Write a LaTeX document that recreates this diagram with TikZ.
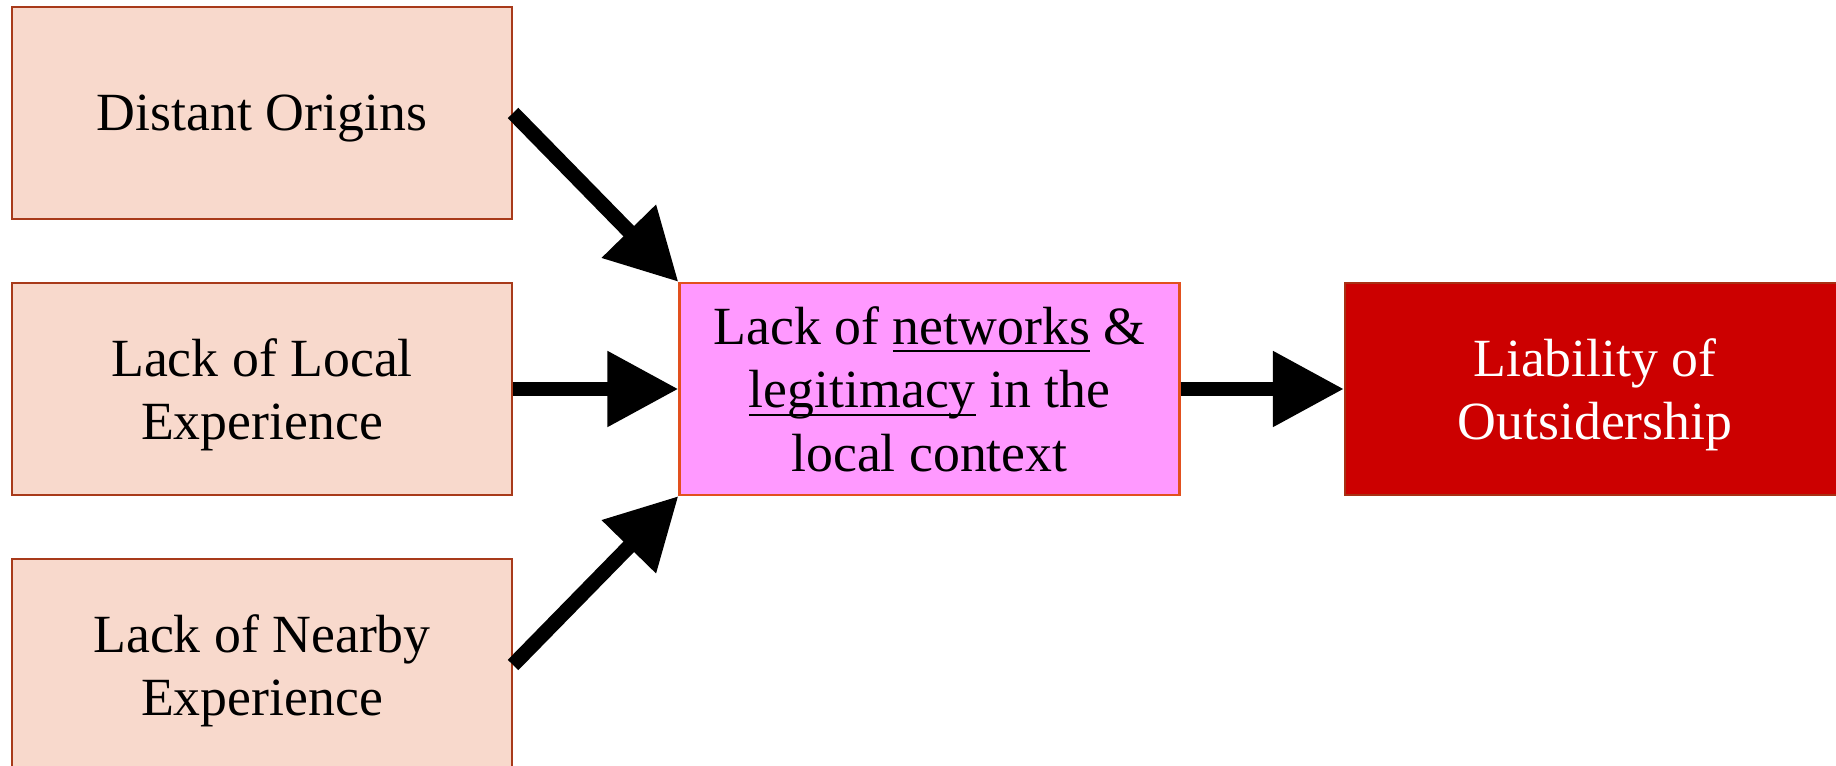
\documentclass[tikz,border=0pt]{standalone}
\usepackage{fontspec}
\setmainfont{Liberation Serif}
\usetikzlibrary{arrows.meta}

% underline at a fixed depth, through the descenders
\newsavebox{\ulwordbox}
\newcommand{\ulword}[1]{\sbox{\ulwordbox}{#1}\rlap{\rule[-2.2pt]{\wd\ulwordbox}{0.6pt}}\usebox{\ulwordbox}}

\definecolor{causefill}{RGB}{248,217,204}
\definecolor{causeline}{RGB}{168,58,26}
\definecolor{gapfill}{RGB}{255,153,255}
\definecolor{gapline}{RGB}{226,80,30}
\definecolor{liabfill}{RGB}{204,0,0}
\definecolor{liabline}{RGB}{168,48,20}

\begin{document}
\begin{tikzpicture}[
  box/.style={line width=0.6pt, align=center, inner sep=0pt, text depth=0pt,
    minimum width=\boxwidth cm, minimum height=\boxheight cm,
    font=\fontsize{15.3}{18}\selectfont},
  causebox/.style={box, draw=causeline, fill=causefill},
  gapbox/.style={box, draw=gapline, fill=gapfill},
  liabbox/.style={box, draw=liabline, fill=liabfill, text=white},
  link/.style={line width=4.2pt, -{Triangle[length=0.71cm, width=0.72cm]}}
]

\newcommand{\boxwidth}{5}
\newcommand{\boxheight}{2.12}
\newcommand{\rowstep}{2.76}
\newcommand{\leftx}{2.62}
\newcommand{\midx}{9.295}
\newcommand{\rightx}{15.95}
\newcommand{\topy}{-1.13}

\useasboundingbox (0,0) rectangle (18.36,-7.66);

% causes on the left
\node [causebox] (origins) at (\leftx, \topy) {Distant Origins};
\node [causebox] (localexp) at (\leftx, \topy-\rowstep) {Lack of Local\\Experience};
\node [causebox] (nearbyexp) at (\leftx, \topy-2*\rowstep) {Lack of Nearby\\Experience};

\node [gapbox] (gap) at (\midx, \topy-\rowstep) {Lack of \ulword{networks} \&\\\ulword{legitimacy} in the\\local context};
\node [liabbox] (liability) at (\rightx, \topy-\rowstep) {Liability of\\Outsidership};

\draw [link] (origins.east) -- (gap.north west);
\draw [link] (localexp.east) -- (gap.west);
\draw [link] (nearbyexp.east) -- (gap.south west);
\draw [link] (gap.east) -- (liability.west);

\end{tikzpicture}
\end{document}
